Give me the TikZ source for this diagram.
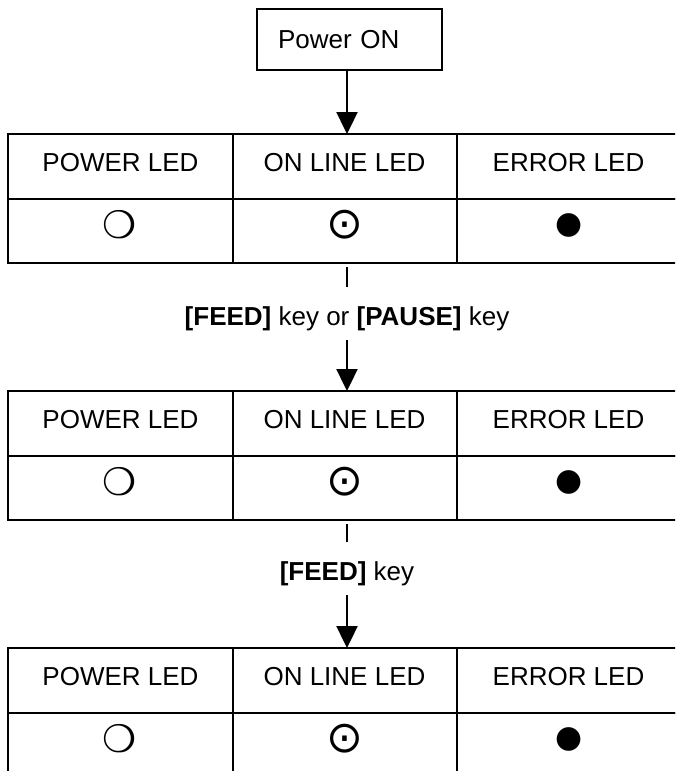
\documentclass[tikz,border=0pt]{standalone}
\usepackage{fontspec}
\setmainfont{Liberation Sans}
\newfontfamily\symfont{DejaVu Sans}
\newfontfamily\symboldfont{DejaVu Sans Bold}
\usetikzlibrary{arrows.meta}
\newcommand\ledtable[2]{%
  \node[cell] (#1-h1) at (120.25,{#2+32.25}) {};
  \node[cell] (#1-h2) at (344.75,{#2+32.25}) {};
  \node[cell] (#1-h3) at (569.25,{#2+32.25}) {};
  \node[cell] (#1-s1) at (120.25,{#2+96.75}) {};
  \node[cell] (#1-s2) at (344.75,{#2+96.75}) {};
  \node[cell] (#1-s3) at (569.25,{#2+96.75}) {};
  \node[hdr] (#1-t1) at (120.5,{#2+37.5}) {POWER LED};
  \node[hdr] (#1-t2) at (344.5,{#2+37.5}) {ON LINE LED};
  \node[hdr] (#1-t3) at (568.5,{#2+37.5}) {ERROR LED};
  \node[sym,font=\symboldfont\fontsize{38}{38}\selectfont] (#1-o1) at (120,{#2+91}) {❍};
  \node[sym,font=\symfont\fontsize{44}{44}\selectfont] (#1-o2) at (345,{#2+91}) {⊙};
  \node[sym,font=\symfont\fontsize{31}{31}\selectfont] (#1-o3) at (569,{#2+91}) {●};
}
\begin{document}
\begin{tikzpicture}[x=1pt,y=-1pt,
  cell/.style={draw, line width=2pt, minimum width=224.5pt, minimum height=64.5pt, inner sep=0pt, outer sep=0pt},
  hdr/.style={anchor=base, inner sep=0pt, font=\fontsize{26}{30}\selectfont},
  sym/.style={inner sep=0pt},
  lbl/.style={anchor=base, inner sep=0pt, font=\fontsize{26}{30}\selectfont},
  conn/.style={line width=2.4pt},
  arr/.style={line width=2.4pt, -{Triangle[length=22pt,width=21pt]}},
]
\useasboundingbox (0,0) rectangle (675,771);
\fill[white] (0,0) rectangle (675,771);
\clip (0,0) rectangle (675,771);
\coordinate (axis) at (347,0);

\node[draw, line width=2pt, minimum height=61pt, text width=143pt, inner xsep=21pt, inner ysep=0pt, align=left, font=\fontsize{26}{30}\selectfont] (power) at (349.5,39.5) {Power ON};

\ledtable{t1}{134}
\ledtable{t2}{391}
\ledtable{t3}{648}

\draw[arr] (power.south -| axis) -- (t1-h2.north -| axis);

\node[lbl] (l1) at (347,325) {\textbf{[FEED]} key or \textbf{[PAUSE]} key};
\draw[conn] ([yshift=-4pt]t1-s2.south -| axis) -- ([yshift=38pt]l1.base -| axis);
\draw[arr] ([yshift=-15pt]l1.base -| axis) -- (t2-h2.north -| axis);

\node[lbl] (l2) at (347,580) {\textbf{[FEED]} key};
\draw[conn] ([yshift=-4pt]t2-s2.south -| axis) -- ([yshift=38pt]l2.base -| axis);
\draw[arr] ([yshift=-15pt]l2.base -| axis) -- (t3-h2.north -| axis);
\end{tikzpicture}
\end{document}
